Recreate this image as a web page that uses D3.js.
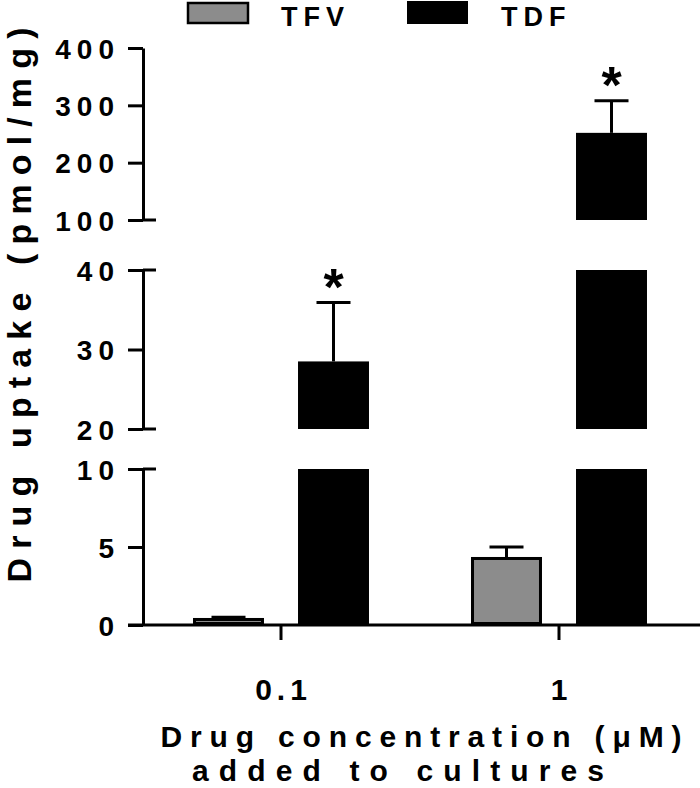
<!DOCTYPE html>
<html>
<head>
<meta charset="utf-8">
<script src="https://cdn.jsdelivr.net/npm/d3@7"></script>
<style>
  body { margin: 0; background: #fff; }
  svg text { font-family: "Liberation Sans", Arial, sans-serif; font-weight: bold; fill: #000; }
</style>
</head>
<body>
<div id="chart"></div>
<script>
// Data
const concentrations = ["0.1", "1"];
const drugs = ["TFV", "TDF"];
const meanUptake = {TFV: [0.45, 4.36], TDF: [28.5, 252]};
const semUptake = {TFV: [0.05, 0.64], TDF: [7.4, 56]};
const significant = {TFV: [false, false], TDF: [true, true]};

// Broken y axis segments
const segLow = [0, 10];
const segMid = [20, 40];
const segTop = [100, 400];
const ticksLow = [0, 5, 10];
const ticksMid = [20, 30, 40];
const ticksTop = [100, 200, 300, 400];

const width = 700, height = 788;

const svg = d3.select("#chart")
  .append("svg")
  .attr("width", width)
  .attr("height", height);

// One scale per axis segment
const yLow = d3.scaleLinear().domain(segLow).range([625, 469]);
const yMid = d3.scaleLinear().domain(segMid).range([429, 270]);
const yTop = d3.scaleLinear().domain(segTop).range([220, 48]);
const segments = [yLow, yMid, yTop];
const tickSets = [ticksLow, ticksMid, ticksTop];

const x0 = d3.scaleBand()
  .domain(concentrations)
  .range([142, 698])
  .padding(0);

const x1 = d3.scaleBand()
  .domain(drugs)
  .range([-105, 105])
  .paddingInner(0.324)
  .paddingOuter(0.162);

const color = d3.scaleOrdinal()
  .domain(drugs)
  .range(["#8c8c8c", "#000000"]);

const axisX = 143;

// Y axis segments
segments.forEach((scale, i) => {
  const g = svg.append("g")
    .attr("transform", `translate(${axisX},0)`)
    .call(d3.axisLeft(scale)
      .tickValues(tickSets[i])
      .tickSize(15)
      .tickSizeOuter(0)
      .tickPadding(8));
  g.selectAll("path, line").attr("stroke", "#000").attr("stroke-width", 3);
  g.selectAll("text")
    .style("font-size", "28px")
    .style("letter-spacing", "6px")
    .attr("x", -23)
    .attr("dy", "0.36em");
  // end caps at the breaks
  const d = scale.domain();
  const caps = i === 0 ? [d[1]] : (i === 2 ? [d[0]] : d);
  caps.forEach(v => {
    g.append("line")
      .attr("x1", 0).attr("x2", 13)
      .attr("y1", scale(v)).attr("y2", scale(v))
      .attr("stroke", "#000").attr("stroke-width", 3);
  });
});

// X axis
const xAxis = svg.append("g")
  .attr("transform", "translate(0,625)")
  .call(d3.axisBottom(x0).tickSize(15).tickSizeOuter(0).tickPadding(38));
xAxis.select(".domain").remove();
xAxis.append("line")
  .attr("x1", 128).attr("x2", 700)
  .attr("stroke", "#000").attr("stroke-width", 3);
xAxis.selectAll("line").attr("stroke", "#000").attr("stroke-width", 3);
xAxis.selectAll("text")
  .style("font-size", "30px")
  .style("letter-spacing", "5px")
  .attr("dx", 2.5)
  .attr("dy", "0.72em");

// Bars, split over the axis segments
const barData = [];
concentrations.forEach((c, ci) => {
  drugs.forEach(dr => {
    barData.push({conc: c, drug: dr, mean: meanUptake[dr][ci], sem: semUptake[dr][ci], sig: significant[dr][ci]});
  });
});

barData.forEach(d => {
  const bx = x0(d.conc) + x0.bandwidth() / 2 + x1(d.drug);
  const bw = x1.bandwidth();
  const isGray = d.drug === "TFV";
  segments.forEach(scale => {
    const [lo, hi] = scale.domain();
    if (d.mean <= lo) return;
    const top = Math.min(d.mean, hi);
    svg.append("rect")
      .attr("x", isGray ? bx + 1.5 : bx)
      .attr("y", isGray ? scale(top) + 1.5 : scale(top))
      .attr("width", isGray ? bw - 3 : bw)
      .attr("height", Math.max(0, scale(lo) - scale(top) - (isGray ? 3 : 0)))
      .attr("fill", color(d.drug))
      .attr("stroke", isGray ? "#000" : "none")
      .attr("stroke-width", 3);
  });
  // error bar drawn in the segment that holds the bar top
  const seg = segments.find(s => d.mean >= s.domain()[0] && d.mean <= s.domain()[1]);
  const cx = bx + bw / 2;
  const yTopErr = seg(d.mean + d.sem);
  svg.append("line")
    .attr("x1", cx).attr("x2", cx)
    .attr("y1", seg(d.mean)).attr("y2", yTopErr)
    .attr("stroke", "#000").attr("stroke-width", 3);
  svg.append("line")
    .attr("x1", cx - 17).attr("x2", cx + 17)
    .attr("y1", yTopErr).attr("y2", yTopErr)
    .attr("stroke", "#000").attr("stroke-width", 3);
  if (d.sig) {
    svg.append("text")
      .attr("x", cx)
      .attr("y", yTopErr + 2)
      .attr("text-anchor", "middle")
      .style("font-size", "52px")
      .text("*");
  }
});

// Legend
const legend = svg.append("g");
const legendX = [187, 407];
drugs.forEach((dr, i) => {
  legend.append("rect")
    .attr("x", legendX[i] + (i === 0 ? 1 : 0))
    .attr("y", i === 0 ? 3 : 1)
    .attr("width", i === 0 ? 60 : 61)
    .attr("height", i === 0 ? 20 : 23)
    .attr("fill", color(dr))
    .attr("stroke", i === 0 ? "#000" : "none")
    .attr("stroke-width", 2.5);
  legend.append("text")
    .attr("x", legendX[i] + 94)
    .attr("y", 26)
    .style("font-size", "27px")
    .style("letter-spacing", "6px")
    .text(dr);
});

// Axis titles
svg.append("text")
  .attr("transform", "translate(31,305) rotate(-90)")
  .attr("text-anchor", "middle")
  .attr("textLength", 555)
  .attr("lengthAdjust", "spacing")
  .style("font-size", "34px")
  .text("Drug uptake (pmol/mg)");

svg.append("text")
  .attr("x", 421)
  .attr("y", 747)
  .attr("text-anchor", "middle")
  .attr("textLength", 521)
  .attr("lengthAdjust", "spacing")
  .style("font-size", "30px")
  .text("Drug concentration (μM)");

svg.append("text")
  .attr("x", 398)
  .attr("y", 781)
  .attr("text-anchor", "middle")
  .attr("textLength", 412)
  .attr("lengthAdjust", "spacing")
  .style("font-size", "30px")
  .text("added to cultures");
</script>
</body>
</html>
